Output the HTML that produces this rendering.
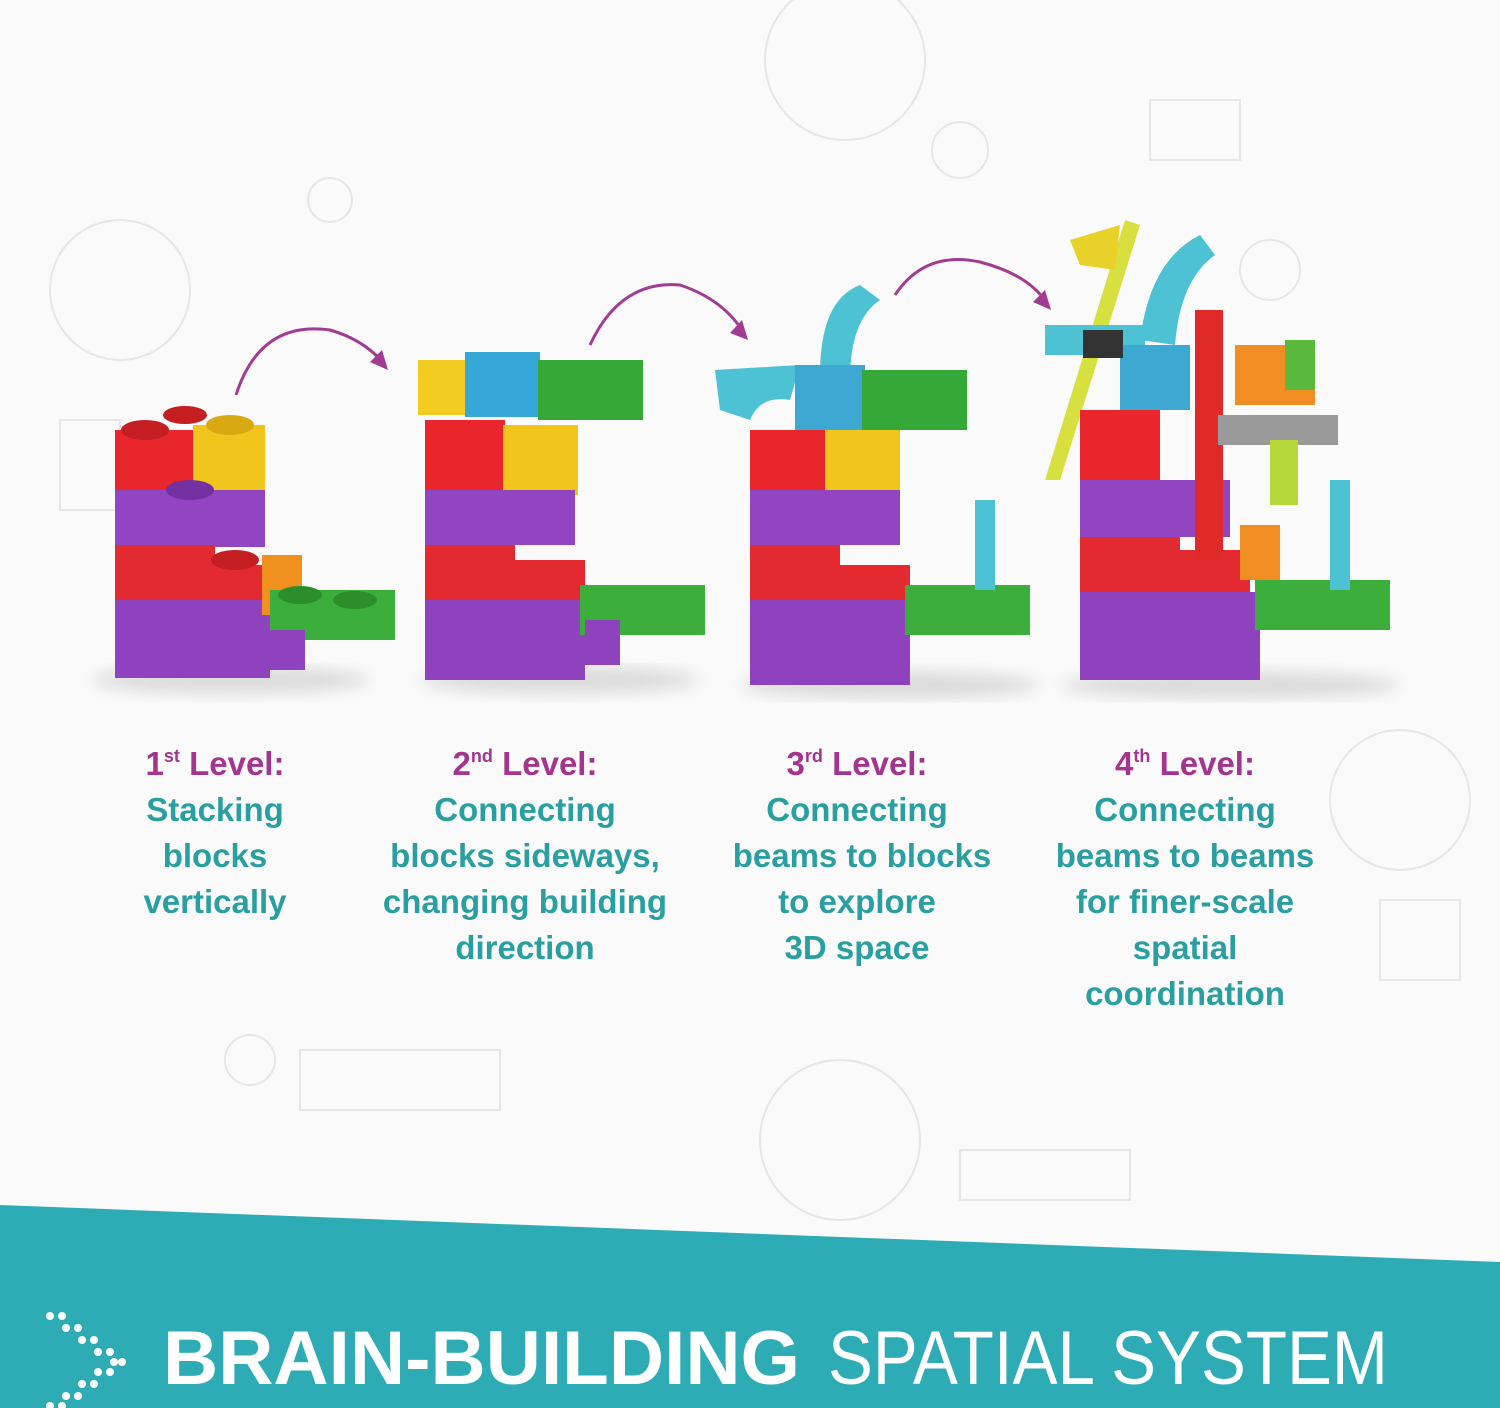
<!DOCTYPE html>
<html><head><meta charset="utf-8"><style>
html,body{margin:0;padding:0;background:#fbfbfb;}
svg{display:block}
</style></head><body>
<svg width="1500" height="1408" viewBox="0 0 1500 1408" xmlns="http://www.w3.org/2000/svg">
<rect width="1500" height="1408" fill="#fafafa"/>
<g fill="none" stroke="#e6e6e6" stroke-width="2">
<circle cx="120" cy="290" r="70"/><circle cx="845" cy="60" r="80"/><circle cx="1400" cy="800" r="70"/><circle cx="840" cy="1140" r="80"/>
<rect x="1150" y="100" width="90" height="60"/><rect x="60" y="420" width="60" height="90"/>
<circle cx="330" cy="200" r="22"/><circle cx="960" cy="150" r="28"/><circle cx="1270" cy="270" r="30"/><circle cx="250" cy="1060" r="25"/>
<rect x="960" y="1150" width="170" height="50"/><rect x="300" y="1050" width="200" height="60"/><rect x="1380" y="900" width="80" height="80"/>
</g>
<g fill="none" stroke="#a23c92" stroke-width="3">
<path d="M236 395 Q260 320 330 330 Q365 340 385 365"/>
<path d="M590 345 Q620 280 680 285 Q725 300 745 335"/>
<path d="M895 295 Q925 250 980 262 Q1030 275 1048 305"/>
</g>
<g fill="#a23c92">
<polygon points="388,370 370,362 382,350"/>
<polygon points="748,340 730,333 742,320"/>
<polygon points="1051,310 1033,302 1045,290"/>
</g>
<defs><filter id="sh"><feGaussianBlur stdDeviation="8"/></filter></defs>
<g fill="#000" opacity="0.12" filter="url(#sh)">
<ellipse cx="230" cy="680" rx="140" ry="14"/><ellipse cx="560" cy="680" rx="140" ry="14"/><ellipse cx="890" cy="685" rx="150" ry="14"/><ellipse cx="1230" cy="685" rx="170" ry="14"/>
</g>
<g>
<rect x="115" y="430" width="80" height="60" fill="#e8262c"/>
<rect x="193" y="425" width="72" height="70" fill="#f2c51c"/>
<rect x="115" y="490" width="150" height="57" fill="#9245c0"/>
<rect x="115" y="545" width="100" height="55" fill="#e32a30"/>
<rect x="195" y="565" width="75" height="70" fill="#e32a30"/>
<rect x="115" y="600" width="155" height="78" fill="#8f42bd"/>
<rect x="262" y="555" width="40" height="60" fill="#f0901e"/>
<rect x="270" y="590" width="125" height="50" fill="#3cae3c"/>
<rect x="270" y="630" width="35" height="40" fill="#8f42bd"/>
<ellipse cx="145" cy="430" rx="24" ry="10" fill="#c41d22"/><ellipse cx="185" cy="415" rx="22" ry="9" fill="#c41d22"/><ellipse cx="230" cy="425" rx="24" ry="10" fill="#d8a910"/>
<ellipse cx="190" cy="490" rx="24" ry="10" fill="#7330a0"/><ellipse cx="235" cy="560" rx="24" ry="10" fill="#c41d22"/>
<ellipse cx="300" cy="595" rx="22" ry="9" fill="#2b8e2b"/><ellipse cx="355" cy="600" rx="22" ry="9" fill="#2b8e2b"/>
</g>
<g>
<rect x="418" y="360" width="50" height="55" fill="#f2cc20"/>
<rect x="465" y="352" width="75" height="65" fill="#36a8d8"/>
<rect x="538" y="360" width="105" height="60" fill="#35a838"/>
<rect x="425" y="420" width="80" height="70" fill="#e8262c"/>
<rect x="503" y="425" width="75" height="70" fill="#f2c51c"/>
<rect x="425" y="490" width="150" height="55" fill="#9245c0"/>
<rect x="425" y="545" width="90" height="55" fill="#e32a30"/>
<rect x="510" y="560" width="75" height="70" fill="#e32a30"/>
<rect x="425" y="600" width="160" height="80" fill="#8f42bd"/>
<rect x="580" y="585" width="125" height="50" fill="#3cae3c"/>
<rect x="585" y="620" width="35" height="45" fill="#8f42bd"/>
</g>
<g>
<path d="M820 375 Q820 300 860 285 L880 300 Q850 320 850 380 Z" fill="#4cc2d4"/>
<path d="M715 370 L800 365 L790 400 Q760 395 750 420 L720 410 Z" fill="#4cc2d4"/>
<rect x="795" y="365" width="70" height="65" fill="#3da8d2"/>
<rect x="862" y="370" width="105" height="60" fill="#35a838"/>
<rect x="750" y="430" width="80" height="60" fill="#e8262c"/>
<rect x="825" y="430" width="75" height="70" fill="#f2c51c"/>
<rect x="750" y="490" width="150" height="55" fill="#9245c0"/>
<rect x="750" y="545" width="90" height="55" fill="#e32a30"/>
<rect x="835" y="565" width="75" height="70" fill="#e32a30"/>
<rect x="750" y="600" width="160" height="85" fill="#8f42bd"/>
<rect x="905" y="585" width="125" height="50" fill="#3cae3c"/>
<rect x="975" y="500" width="20" height="90" fill="#4cc2d4"/>
</g>
<g>
<polygon points="1045,480 1060,480 1140,225 1125,220" fill="#d8e040"/>
<polygon points="1070,240 1120,225 1115,270 1080,265" fill="#e8d22a"/>
<path d="M1140 340 Q1150 260 1200 235 L1215 255 Q1180 280 1175 345 Z" fill="#4cc2d4"/>
<rect x="1045" y="325" width="100" height="30" fill="#4cc2d4"/>
<rect x="1120" y="345" width="70" height="65" fill="#3da8d2"/>
<rect x="1080" y="410" width="80" height="70" fill="#e8262c"/>
<rect x="1080" y="480" width="150" height="57" fill="#9245c0"/>
<rect x="1080" y="537" width="100" height="55" fill="#e32a30"/>
<rect x="1170" y="550" width="80" height="80" fill="#e32a30"/>
<rect x="1080" y="592" width="180" height="88" fill="#8f42bd"/>
<rect x="1195" y="310" width="28" height="250" fill="#e02a2a"/>
<rect x="1235" y="345" width="80" height="60" fill="#f08e24"/>
<rect x="1285" y="340" width="30" height="50" fill="#5ab83a"/>
<rect x="1218" y="415" width="120" height="30" fill="#9a9a9a"/>
<rect x="1270" y="440" width="28" height="65" fill="#b6d83a"/>
<rect x="1240" y="525" width="40" height="55" fill="#f08e24"/>
<rect x="1255" y="580" width="135" height="50" fill="#3cae3c"/>
<rect x="1330" y="480" width="20" height="110" fill="#4cc2d4"/>
<rect x="1083" y="330" width="40" height="28" fill="#333"/>
</g>
<g font-family="'Liberation Sans',sans-serif" font-weight="bold" font-size="33" text-anchor="middle">
<g fill="#a3348f">
<text x="215" y="775">1<tspan font-size="18" dy="-13">st</tspan><tspan dy="13"> Level:</tspan></text>
<text x="525" y="775">2<tspan font-size="18" dy="-13">nd</tspan><tspan dy="13"> Level:</tspan></text>
<text x="857" y="775">3<tspan font-size="18" dy="-13">rd</tspan><tspan dy="13"> Level:</tspan></text>
<text x="1185" y="775">4<tspan font-size="18" dy="-13">th</tspan><tspan dy="13"> Level:</tspan></text>
</g>
<g fill="#2a9fa2">
<text x="215" y="821">Stacking</text><text x="215" y="867">blocks</text><text x="215" y="913">vertically</text>
<text x="525" y="821">Connecting</text><text x="525" y="867">blocks sideways,</text><text x="525" y="913">changing building</text><text x="525" y="959">direction</text>
<text x="857" y="821">Connecting</text><text x="862" y="867">beams to blocks</text><text x="857" y="913">to explore</text><text x="857" y="959">3D space</text>
<text x="1185" y="821">Connecting</text><text x="1185" y="867">beams to beams</text><text x="1185" y="913">for finer-scale</text><text x="1185" y="959">spatial</text><text x="1185" y="1005">coordination</text>
</g>
</g>
<polygon points="0,1205 1500,1262 1500,1408 0,1408" fill="#2eacb5"/>
<g fill="#fff">
<circle cx="50" cy="1316" r="4"/><circle cx="62" cy="1316" r="4"/>
<circle cx="66" cy="1328" r="4"/><circle cx="78" cy="1328" r="4"/>
<circle cx="82" cy="1340" r="4"/><circle cx="94" cy="1340" r="4"/>
<circle cx="98" cy="1352" r="4"/><circle cx="110" cy="1352" r="4"/>
<circle cx="114" cy="1362" r="4"/><circle cx="122" cy="1362" r="4"/>
<circle cx="98" cy="1372" r="4"/><circle cx="110" cy="1372" r="4"/>
<circle cx="82" cy="1384" r="4"/><circle cx="94" cy="1384" r="4"/>
<circle cx="66" cy="1396" r="4"/><circle cx="78" cy="1396" r="4"/>
<circle cx="50" cy="1406" r="4"/><circle cx="62" cy="1406" r="4"/>
</g>
<g font-family="'Liberation Sans',sans-serif" font-size="76" fill="#fff">
<text x="163" y="1384" font-weight="bold" textLength="637" lengthAdjust="spacingAndGlyphs">BRAIN-BUILDING</text>
<text x="828" y="1384" textLength="560" lengthAdjust="spacingAndGlyphs">SPATIAL SYSTEM</text>
</g>
</svg>
</body></html>
